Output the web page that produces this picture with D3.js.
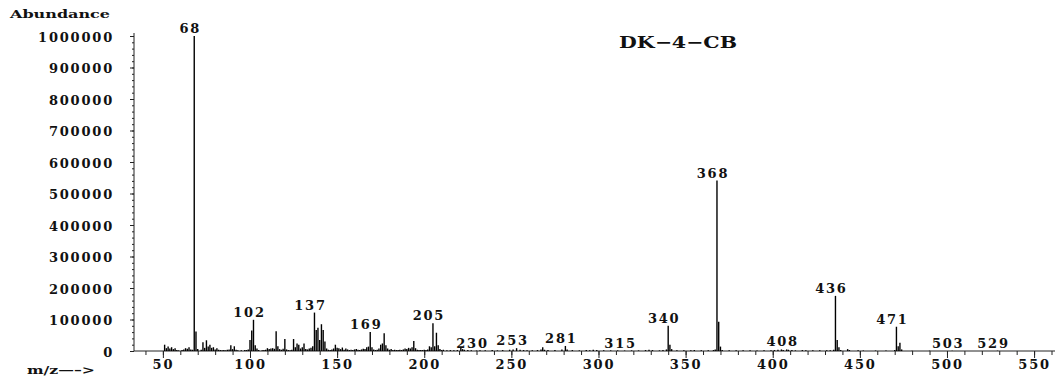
<!DOCTYPE html>
<meta charset="utf-8">
<style>
  body { margin: 0; background: #fff; }
  svg text { font-family: "DejaVu Serif", serif; font-weight: bold; fill: #111; }
</style>
<svg width="1056" height="378"></svg>
<script src="https://cdn.jsdelivr.net/npm/d3@7"></script>
<script>
// spectrum
var mz = [51,52,53,54,55,56,57,58,59,61,62,63,64,65,66,67,68,69,70,
  72,73,74,75,76,77,78,79,80,81,82,83,84,85,86,87,88,89,90,91,92,93,95,97,98,99,
  100,101,102,103,104,105,107,108,109,110,111,112,113,114,115,116,117,118,119,120,
  121,122,123,124,125,126,127,128,129,130,131,132,133,134,135,136,137,138,139,140,
  141,142,143,144,145,146,147,148,149,150,151,152,153,154,155,156,157,158,159,160,
  161,162,163,164,165,166,167,168,169,170,171,172,173,174,175,176,177,178,179,180,
  181,182,183,184,185,186,187,188,189,190,191,192,193,194,195,196,197,198,199,200,
  201,202,203,204,205,206,207,208,209,210,211,213,215,217,219,221,222,223,225,227,
  230,232,235,239,242,245,249,251,253,255,257,259,262,265,267,268,269,271,275,279,
  281,282,285,289,293,295,297,299,303,307,311,315,319,323,327,329,331,335,337,339,
  340,341,342,345,349,353,355,359,363,366,367,368,369,370,371,375,379,383,387,391,
  395,399,401,403,405,406,408,409,411,413,417,419,423,427,431,433,435,436,437,438,
  439,443,444,449,452,459,465,470,471,472,473,474,480,490,503,529];
var abundance = [20000,9000,14000,8000,12000,6000,9000,3000,2000,3000,5000,9000,7000,12000,5000,4000,1000000,62000,6000,
  4000,28000,10000,34000,14000,20000,10000,12000,5000,9000,4000,3000,2000,3000,2000,4000,5000,18000,6000,15000,4000,2000,2000,3000,3000,5000,
  35000,65000,99000,18000,8000,3000,2000,3000,4000,9000,6000,8000,9000,7000,63000,15000,6000,4000,7000,38000,
  5000,3000,2000,4000,38000,12000,24000,20000,8000,12000,24000,6000,5000,8000,10000,15000,122000,67000,74000,35000,
  85000,67000,30000,8000,4000,3000,5000,8000,20000,10000,9000,6000,11000,4000,8000,5000,3000,4000,3000,5000,
  6000,4000,3000,5000,7000,6000,12000,14000,60000,12000,5000,3000,4000,8000,20000,24000,56000,18000,8000,4000,
  6000,3000,4000,3000,3000,4000,3000,5000,8000,6000,10000,8000,12000,32000,9000,4000,3000,3000,3000,4000,
  3000,5000,15000,12000,88000,15000,58000,18000,6000,3000,4000,2000,3000,2000,3000,10000,6000,4000,3000,2000,
  1500,2000,2000,3000,2000,3000,4000,5000,9000,4000,3000,2000,2000,3000,5000,12000,4000,3000,3000,5000,
  16000,5000,3000,2000,3000,2000,4000,3000,2000,2000,2000,1500,2000,2000,3000,4000,3000,2000,3000,5000,
  80000,20000,6000,2000,2000,2000,3000,2000,2000,3000,5000,541000,93000,14000,3000,2000,2000,2000,2000,1500,
  2000,2000,3000,4000,5000,3000,5000,4000,3000,2000,3000,2000,2000,2000,2000,2000,4000,175000,35000,12000,
  3000,6000,3000,2000,1500,1500,1500,3000,77000,15000,26000,5000,1000,1000,1000,1000];
var labelled = [68,102,137,169,205,230,253,281,315,340,368,408,436,471,503,529];
var xMajor = [50,100,150,200,250,300,350,400,450,500,550];
var yMajor = [0,100000,200000,300000,400000,500000,600000,700000,800000,900000,1000000];
var title = "DK\u22124\u2212CB";

var svg = d3.select("svg");

var x = d3.scaleLinear().domain([34, 562]).range([135, 1055]);
var y = d3.scaleLinear().domain([0, 1000000]).range([351, 36]);

var peaks = mz.map(function(m, i) { return {mz: m, v: abundance[i]}; });

// wide bold digits like the original print
function wide(sel) {
  sel.style("font-size", "13px").style("letter-spacing", "1.8px").attr("fill", "#111");
}

// minor ticks
svg.append("g")
    .attr("transform", "translate(0,351)")
    .call(d3.axisBottom(x).tickValues(d3.range(40, 561, 10)).tickSize(4).tickFormat(""))
    .call(function(g) { g.select(".domain").remove(); });
svg.append("g")
    .attr("transform", "translate(134,0)")
    .call(d3.axisLeft(y).tickValues(d3.range(0, 1000001, 20000)).tickSize(2).tickFormat(""))
    .call(function(g) { g.select(".domain").remove(); });

// major ticks + labels
var xa = svg.append("g")
    .attr("transform", "translate(0,351)")
    .call(d3.axisBottom(x).tickValues(xMajor).tickSize(7).tickSizeOuter(0));
xa.select(".domain").attr("d", "M134,0H1055");
xa.selectAll("text").attr("y", 18).attr("dy", null).call(wide);

var ya = svg.append("g")
    .attr("transform", "translate(134,0)")
    .call(d3.axisLeft(y).tickValues(yMajor).tickSize(4).tickPadding(16).tickFormat(d3.format("d")).tickSizeOuter(0));
ya.select(".domain").attr("d", "M0,351V33");
ya.selectAll("text").attr("dy", "0.4em").call(wide);

svg.selectAll(".tick line, .domain").attr("stroke", "#222");

// spectrum lines
svg.append("g").selectAll("line")
  .data(peaks)
  .join("line")
    .attr("x1", function(d) { return x(d.mz); })
    .attr("x2", function(d) { return x(d.mz); })
    .attr("y1", y(0))
    .attr("y2", function(d) { return y(d.v); })
    .attr("stroke", "#000")
    .attr("stroke-width", 1.4);

// peak labels
svg.append("g").selectAll("text")
  .data(peaks.filter(function(d) { return labelled.indexOf(d.mz) >= 0; }))
  .join("text")
    .attr("x", function(d) { return x(d.mz) - 4; })
    .attr("y", function(d) { return y(d.v) - 3; })
    .attr("text-anchor", "middle")
    .call(wide)
    .text(function(d) { return d.mz; });

svg.append("text").attr("x", 10).attr("y", 18)
    .attr("textLength", 100).attr("lengthAdjust", "spacingAndGlyphs")
    .style("font-size", "11px").text("Abundance");

svg.append("text").attr("x", 27).attr("y", 374)
    .attr("textLength", 68).attr("lengthAdjust", "spacingAndGlyphs")
    .style("font-size", "11px").text("m/z\u2014\u2013>");

svg.append("text").attr("x", 619).attr("y", 48)
    .attr("textLength", 118).attr("lengthAdjust", "spacingAndGlyphs")
    .style("font-size", "16px").text(title);
</script>
